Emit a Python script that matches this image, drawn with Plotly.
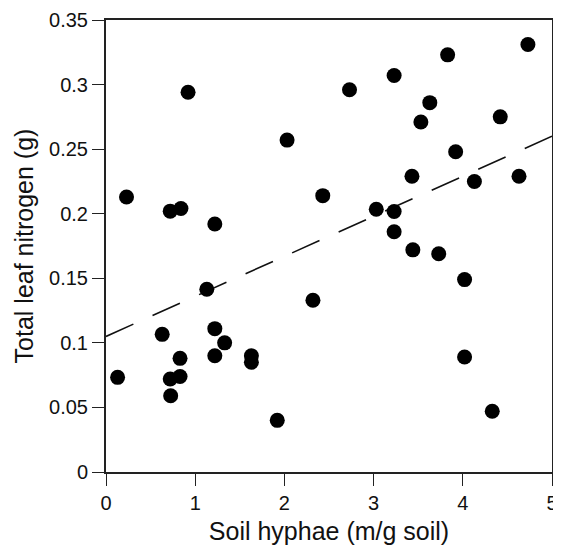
import plotly.graph_objects as go

hyphae = [0.92, 2.03, 0.23, 0.72, 0.84, 1.22, 4.73, 3.83, 3.23, 2.73,
          3.63, 3.53, 4.42, 3.92, 3.43, 4.13, 4.63, 2.43, 3.03, 3.23,
          3.23, 1.13, 0.63, 0.13, 1.22, 1.33, 1.22, 0.83, 0.72, 0.83,
          0.725, 1.63, 1.63, 1.92, 2.32, 3.44, 3.73, 4.02, 4.02, 4.33]
nitrogen = [0.294, 0.257, 0.213, 0.202, 0.204, 0.192, 0.331, 0.323, 0.307, 0.296,
            0.286, 0.271, 0.275, 0.248, 0.229, 0.225, 0.229, 0.214, 0.2035, 0.2017,
            0.186, 0.1415, 0.1066, 0.0733, 0.111, 0.100, 0.090, 0.088, 0.072, 0.074,
            0.059, 0.090, 0.085, 0.040, 0.133, 0.172, 0.169, 0.149, 0.089, 0.047]
fit_x = [0, 5]
fit_y = [0.105, 0.26]
y_ticks = [0, 0.05, 0.1, 0.15, 0.2, 0.25, 0.3, 0.35]
y_labels = ["0", "0.05", "0.1", "0.15", "0.2", "0.25", "0.3", "0.35"]
x_ticks = [0, 1, 2, 3, 4, 5]

fig = go.Figure()
fig.add_trace(go.Scatter(x=fit_x, y=fit_y, mode="lines",
                         line=dict(color="#111", width=1.6, dash="30px,21px"),
                         hoverinfo="skip"))
fig.add_trace(go.Scatter(x=hyphae, y=nitrogen, mode="markers",
                         marker=dict(color="#000", size=15, line=dict(width=0))))

axis_common = dict(showline=True, linecolor="#222", linewidth=2, mirror=True,
                   ticks="outside", ticklen=12, tickwidth=1.3, tickcolor="#222",
                   showgrid=False, zeroline=False, automargin=False,
                   tickfont=dict(family="Liberation Sans, Arial", size=20, color="#111"))

fig.update_xaxes(range=[0, 5], tickvals=x_ticks,
                 title=dict(text="Soil hyphae (m/g soil)", standoff=9,
                            font=dict(family="Liberation Sans, Arial", size=25, color="#111")),
                 **axis_common)
fig.update_yaxes(range=[0, 0.35], tickvals=y_ticks, ticktext=y_labels,
                 title=dict(text="Total leaf nitrogen (g)", standoff=8,
                            font=dict(family="Liberation Sans, Arial", size=25, color="#111")),
                 **axis_common)

# page body has an 8px default margin; compensate so the plot area lands where the reference's does
fig.update_layout(width=553, height=540, showlegend=False,
                  plot_bgcolor="white", paper_bgcolor="white",
                  margin=dict(l=98, r=9, t=12, b=76))

fig.write_html("out.html")
